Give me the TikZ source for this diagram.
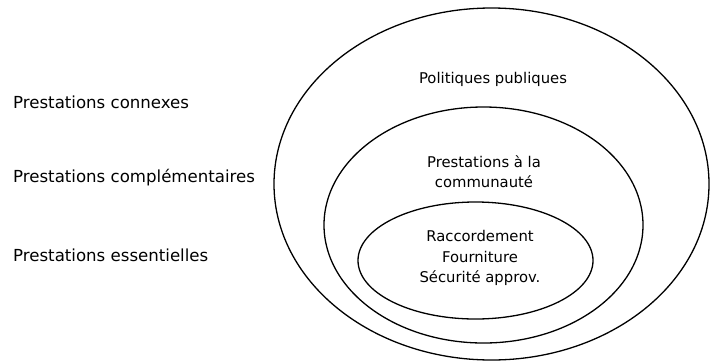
\documentclass[tikz,border=0pt]{standalone}
\usepackage{fontspec}
\setmainfont{DejaVu Sans}
\usetikzlibrary{shapes.geometric, positioning}

\begin{document}
\begin{tikzpicture}
	[x=1pt, y=-1pt,
	 ring/.style={ellipse, draw, line width=1.3pt, inner sep=0pt},
	 levelname/.style={anchor=west, inner sep=0pt, font=\fontsize{16.6}{20}\selectfont},
	 ringtext/.style={align=center, inner sep=0pt, font=\fontsize{14.8}{20.5}\selectfont}]

	\useasboundingbox (0,0) rectangle (711,362);

	\node[ring, minimum width=435pt, minimum height=352pt] (outer) at (491.5,184) {};
	\node[ring, minimum width=319pt, minimum height=236pt] (middle) at (483.5,225) {};
	\node[ring, minimum width=235pt, minimum height=117pt] (inner) at (475.5,260.5) {};

	\node[ringtext] (politiques) at (493,79) {Politiques publiques};
	\node[ringtext] (communaute) at (484,171.5) {Prestations à la\\communauté};
	\node[ringtext] (essentiel) at (480,258) {Raccordement\\Fourniture\\Sécurité approv.};

	\node[levelname] (connexes) at (13,102) {Prestations connexes};
	\node[levelname, below = 76pt of connexes.west, anchor=west] (complementaires) {Prestations complémentaires};
	\node[levelname, below = 77pt of complementaires.west, anchor=west] (essentielles) {Prestations essentielles};
\end{tikzpicture}
\end{document}
